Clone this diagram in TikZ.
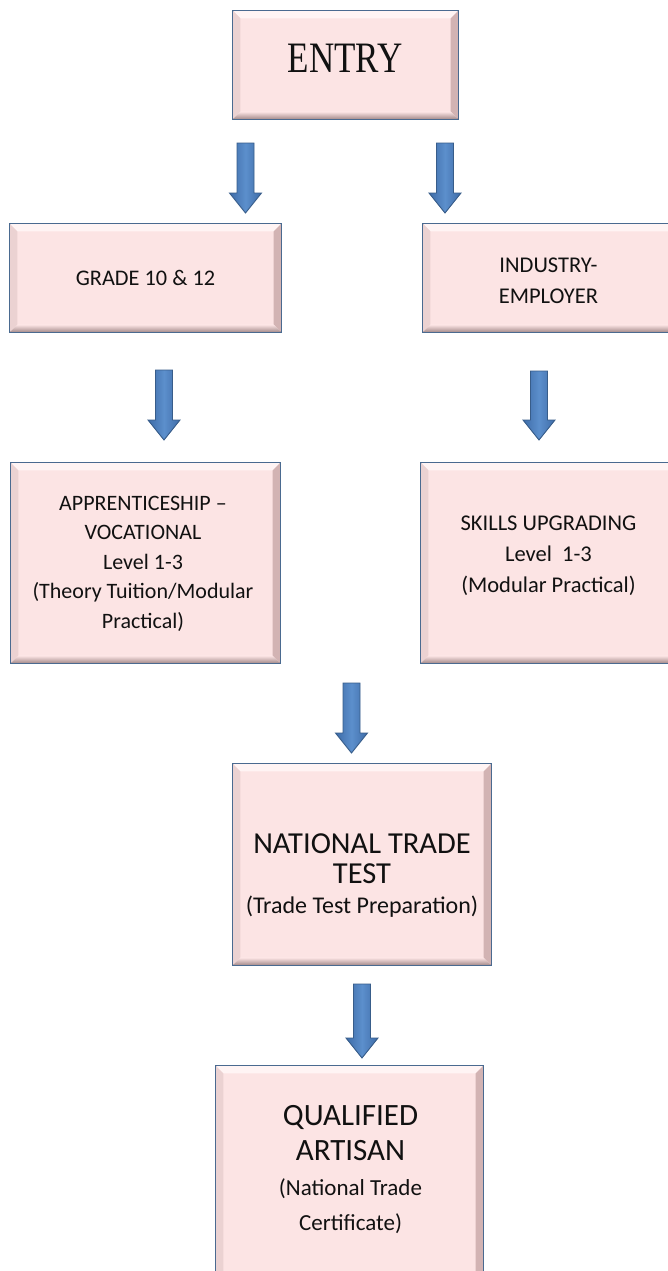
\documentclass[tikz,border=0pt]{standalone}
\usepackage{fontspec}
\usepackage{graphicx}
\setmainfont{Carlito}
\newfontfamily\entryfont{Liberation Serif}
\usetikzlibrary{calc}
\definecolor{boxfill}{HTML}{FCE4E4}
\definecolor{boxline}{HTML}{4A6A90}
\definecolor{bevtopc}{HTML}{FFF4F4}
\definecolor{bevleftc}{HTML}{EBD2D2}
\definecolor{bevrightc}{HTML}{D2B3B3}
\definecolor{bevbotc}{HTML}{9E8484}
\definecolor{arrdark}{HTML}{3E6CA8}
\definecolor{arrlight}{HTML}{5C8FCC}
\definecolor{arrline}{HTML}{385D8A}
\definecolor{txtc}{HTML}{111111}
\tikzset{
  stepbox/.style={rectangle, draw=boxline, line width=1.3pt, fill=boxfill, inner sep=0pt},
  boxborder/.style={draw=boxline, line width=1.3pt},
  txt/.style={anchor=base, inner sep=0pt, text=txtc},
  barrow/.style={draw=arrline, line width=0.9pt, left color=arrdark, right color=arrdark, middle color=arrlight, shading angle=90},
}
\newcommand\bevelbox[1]{%
  \fill[bevtopc] (#1.north west) -- (#1.north east) -- ($(#1.north east)+(-8,8)$) -- ($(#1.north west)+(8,8)$) -- cycle;
  \fill[bevleftc] (#1.north west) -- ($(#1.north west)+(8,8)$) -- ($(#1.south west)+(8,-8)$) -- (#1.south west) -- cycle;
  \fill[bevrightc] (#1.north east) -- ($(#1.north east)+(-8,8)$) -- ($(#1.south east)+(-8,-8)$) -- (#1.south east) -- cycle;
  \shade[top color=boxfill, bottom color=bevbotc] (#1.south west) -- ($(#1.south west)+(8,-8)$) -- ($(#1.south east)+(-8,-8)$) -- (#1.south east) -- cycle;
  \draw[boxborder] (#1.north west) rectangle (#1.south east);
}
\newcommand\blockarrow[2]{%
  \path[barrow] ($(#1)+(-8.5,0)$) -- ($(#1)+(8.5,0)$) -- ($(#2)+(8.5,-20)$) -- ($(#2)+(16,-20)$) -- (#2) -- ($(#2)+(-16,-20)$) -- ($(#2)+(-8.5,-20)$) -- cycle;
}
\begin{document}
\begin{tikzpicture}[x=1pt, y=-1pt]
\useasboundingbox (0,0) rectangle (668,1271);
\fill[white] (0,0) rectangle (668,1271);
\clip (0,0) rectangle (668,1271);

% boxes
\node[stepbox, minimum width=225, minimum height=108] (entry) at (345.5,65) {};
\bevelbox{entry}
\node[stepbox, minimum width=271, minimum height=108] (grade) at (145.5,278) {};
\bevelbox{grade}
\node[stepbox, minimum width=253, minimum height=108] (industry) at (549.5,278) {};
\bevelbox{industry}
\node[stepbox, minimum width=269, minimum height=200] (appr) at (145.5,563) {};
\bevelbox{appr}
\node[stepbox, minimum width=256, minimum height=200] (skills) at (549,563) {};
\bevelbox{skills}
\node[stepbox, minimum width=258, minimum height=201] (natl) at (362,864.5) {};
\bevelbox{natl}
\node[stepbox, minimum width=267, minimum height=216] (qual) at (349.5,1174) {};
\bevelbox{qual}

% texts
\node[txt] (entryT) at (345,73) {\entryfont\fontsize{35}{40}\selectfont\scalebox{1}[1.24]{ENTRY}};
\node[txt] (gradeT) at (145.5,285) {\fontsize{22.3}{28}\selectfont GRADE 10 \& 12};
\node[txt] (industryT) at (548.5,272) {\fontsize{22.5}{31}\selectfont\begin{tabular}[t]{@{}c@{}}INDUSTRY-\\EMPLOYER\end{tabular}};
\node[txt] (apprT) at (143,510) {\fontsize{22}{29.5}\selectfont\begin{tabular}[t]{@{}c@{}}APPRENTICESHIP --\\VOCATIONAL\\Level 1-3\\(Theory Tuition/Modular\\Practical)\end{tabular}};
\node[txt] (skillsT) at (548.5,530) {\fontsize{22.5}{31}\selectfont\begin{tabular}[t]{@{}c@{}}SKILLS UPGRADING\\Level~ 1-3\\(Modular Practical)\end{tabular}};
\node[txt] (natlT) at (362,853) {\fontsize{30.5}{30}\selectfont\begin{tabular}[t]{@{}c@{}}NATIONAL TRADE\\TEST\\{\fontsize{24}{29}\selectfont(Trade Test Preparation)}\end{tabular}};
\node[txt] (qualT) at (350.5,1125) {\fontsize{31}{35}\selectfont\begin{tabular}[t]{@{}c@{}}QUALIFIED\\ARTISAN\\{\fontsize{23}{35}\selectfont(National Trade}\\{\fontsize{23}{35}\selectfont Certificate)}\end{tabular}};

% arrows
\coordinate (a1s) at (245.5,143); \coordinate (a1e) at (245.5,213);
\coordinate (a2s) at (445,143);   \coordinate (a2e) at (445,213);
\coordinate (a3s) at (164,370);   \coordinate (a3e) at (164,440);
\coordinate (a4s) at (539,371);   \coordinate (a4e) at (539,440);
\coordinate (a5s) at (351.5,683); \coordinate (a5e) at (351.5,753);
\coordinate (a6s) at (362,984);   \coordinate (a6e) at (362,1058);
\blockarrow{a1s}{a1e}
\blockarrow{a2s}{a2e}
\blockarrow{a3s}{a3e}
\blockarrow{a4s}{a4e}
\blockarrow{a5s}{a5e}
\blockarrow{a6s}{a6e}
\end{tikzpicture}
\end{document}
